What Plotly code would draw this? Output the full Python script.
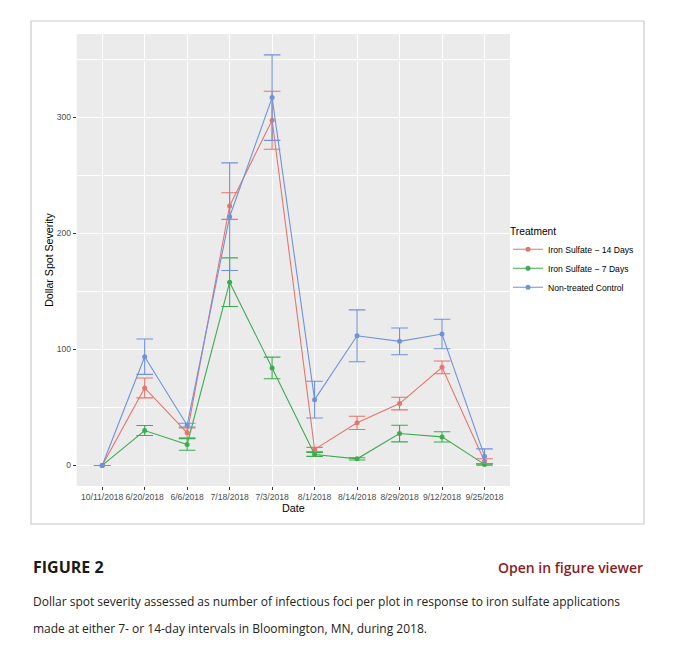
import plotly.graph_objects as go

# Sampling dates, in the order they were plotted
dates = ["10/11/2018", "6/20/2018", "6/6/2018", "7/18/2018", "7/3/2018",
         "8/1/2018", "8/14/2018", "8/29/2018", "9/12/2018", "9/25/2018"]

treatments = ["Iron Sulfate − 14 Days", "Iron Sulfate − 7 Days", "Non-treated Control"]

# mean dollar spot severity per treatment
sev_14d = [0, 66.8, 28.1, 223.5, 297.4, 13.8, 36.7, 53.3, 84.5, 3.7]
sev_7d = [0, 30.1, 18.1, 157.9, 84.0, 9.5, 5.7, 27.5, 24.6, 0.9]
sev_ctrl = [0, 93.7, 34.7, 214.3, 316.9, 56.7, 111.7, 106.9, 113.2, 8.0]

# standard errors
se_14d = [0, 8.6, 4.3, 11.5, 25.0, 1.8, 5.7, 5.4, 5.5, 2.1]
se_7d = [0, 4.3, 5.0, 20.9, 9.3, 1.7, 1.0, 7.2, 4.4, 0.6]
se_ctrl = [0, 15.2, 1.6, 46.4, 36.8, 15.8, 22.3, 11.5, 12.7, 6.3]

colors = ["#E5756D", "#3BAD4F", "#6F93DA"]

# the page body has an 8px margin, so work in page pixels and shift
OFF = 8
W, H = 680 - OFF, 665 - OFF
GG_FONT = "Liberation Sans, Arial, sans-serif"
PAGE_FONT = "Open Sans, Noto Sans, sans-serif"


def px(x):
    return (x - OFF) / W


def py(y):
    return 1 - (y - OFF) / H


fig = go.Figure()
for name, y, se, col in zip(treatments, [sev_14d, sev_7d, sev_ctrl],
                            [se_14d, se_7d, se_ctrl], colors):
    fig.add_trace(go.Scatter(
        x=dates, y=y, name=name, mode="lines+markers",
        line=dict(color=col, width=1.1),
        marker=dict(color=col, size=5),
        error_y=dict(type="data", array=se, color=col, thickness=1.1, width=8.3),
    ))

grid = dict(showgrid=True, gridcolor="white", gridwidth=1.1, zeroline=False,
            ticks="outside", ticklen=3, tickcolor="#333333", tickwidth=1,
            tickfont=dict(family=GG_FONT, size=8.6, color="#4D4D4D"),
            showline=False, automargin=False)

fig.update_xaxes(
    type="category", range=[-0.6, 9.6], tickangle=0,
    domain=[px(76.7), px(510)],
    title=dict(text="Date", font=dict(family=GG_FONT, size=10.8, color="black"), standoff=0),
    **grid,
)
fig.update_yaxes(
    range=[-17.7, 371.7], tickvals=[0, 100, 200, 300],
    domain=[py(486), py(34)],
    minor=dict(dtick=50, tick0=0, showgrid=True, gridcolor="white", gridwidth=0.5, ticks=""),
    title=dict(text="Dollar Spot Severity", font=dict(family=GG_FONT, size=10.6, color="black"), standoff=0),
    **grid,
)

fig.update_layout(
    width=W, height=H,
    margin=dict(l=0, r=0, t=0, b=0, pad=0),
    paper_bgcolor="white", plot_bgcolor="#EBEBEB",
    legend=dict(
        title=dict(text="Treatment", font=dict(family=GG_FONT, size=10.2, color="black")),
        font=dict(family=GG_FONT, size=8.6, color="black"),
        x=px(508), xanchor="left", y=py(262), yanchor="middle",
        bgcolor="rgba(0,0,0,0)", itemwidth=30,
    ),
    shapes=[dict(type="rect", xref="paper", yref="paper",
                 x0=px(31), x1=px(644), y0=py(524), y1=py(21),
                 line=dict(color="#CCCCCC", width=1.2), layer="below")],
    annotations=[
        dict(text="<b>FIGURE 2</b>", xref="paper", yref="paper", x=px(31), y=py(567),
             xanchor="left", yanchor="middle", showarrow=False,
             font=dict(family=PAGE_FONT, size=16, color="#1A1A1A")),
        dict(text="Open in figure viewer", xref="paper", yref="paper", x=px(645), y=py(567),
             xanchor="right", yanchor="middle", showarrow=False,
             font=dict(family=PAGE_FONT, size=14, color="#8E1B1F", weight=600)),
        dict(text="Dollar spot severity assessed as number of infectious foci per plot in response to iron sulfate applications",
             xref="paper", yref="paper", x=px(31), y=py(601),
             xanchor="left", yanchor="middle", showarrow=False,
             font=dict(family=PAGE_FONT, size=12, color="#222222")),
        dict(text="made at either 7- or 14-day intervals in Bloomington, MN, during 2018.",
             xref="paper", yref="paper", x=px(31), y=py(628),
             xanchor="left", yanchor="middle", showarrow=False,
             font=dict(family=PAGE_FONT, size=12, color="#222222")),
    ],
)

fig.write_html("out.html")
